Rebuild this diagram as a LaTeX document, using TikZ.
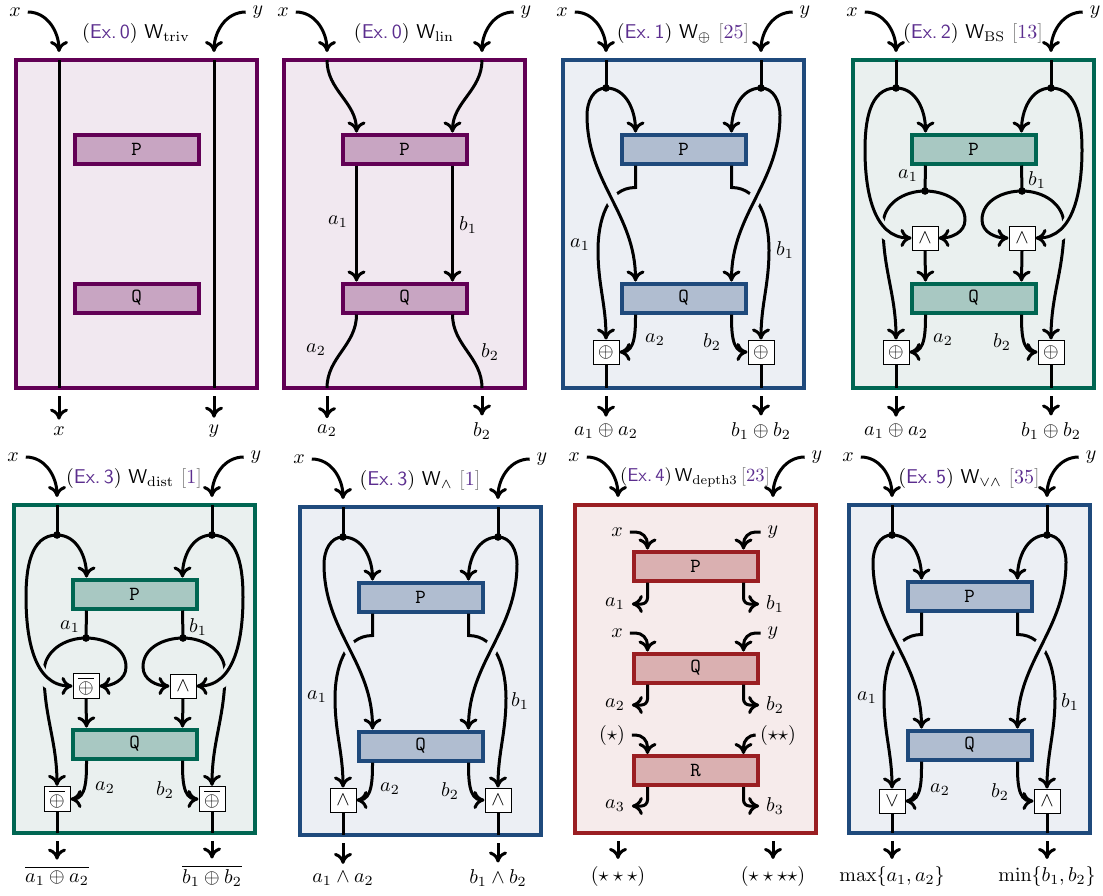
\documentclass[tikz,border=0pt]{standalone}
\usepackage{amsmath}
\usepackage{tikz}
\usetikzlibrary{arrows.meta}

\definecolor{purpfr}{HTML}{620055}
\definecolor{purpbg}{HTML}{F1E8F0}
\definecolor{purpbox}{HTML}{C8A5C2}
\definecolor{bluefr}{HTML}{1F4A7C}
\definecolor{bluebg}{HTML}{ECEFF4}
\definecolor{bluebox}{HTML}{B0BDD0}
\definecolor{greenfr}{HTML}{006652}
\definecolor{greenbg}{HTML}{EAF0EF}
\definecolor{greenbox}{HTML}{A8C8C2}
\definecolor{redfr}{HTML}{9A1E22}
\definecolor{redbg}{HTML}{F6EBEB}
\definecolor{redbox}{HTML}{DAB0B1}
\definecolor{expurple}{HTML}{5B2D8E}

\newcommand{\exno}[1]{(\textcolor{expurple}{\textsf{Ex.\,#1}})}
\newcommand{\refnum}[1]{\textcolor{gray}{[}\textcolor{expurple}{#1}\textcolor{gray}{]}}

\tikzset{
  wire/.style={line width=1.5pt},
  panel/.style={draw=#1fr, fill=#1bg, line width=1.8pt},
  gate/.style={rectangle, draw=#1fr, fill=#1box, line width=2pt, minimum width=62pt, minimum height=14.5pt, inner sep=0pt, font=\ttfamily},
  op/.style={rectangle, draw, fill=white, line width=0.5pt, minimum width=13pt, minimum height=12pt, inner sep=2pt},
  split/.style={circle, fill, inner sep=0pt, minimum size=3.8pt},
  over/.style={preaction={draw=#1bg, line width=6.5pt, -, shorten <=6pt, shorten >=6pt}},
}

\begin{document}
\begin{tikzpicture}[x=0.5pt, y=0.5pt, >={Computer Modern Rightarrow[length=5.5pt,width=9pt]}]
    \useasboundingbox (0,0) rectangle (1103,-895);

    \begin{scope}[shift={(16,-60)}]
        \draw[panel=purp] (0,0) rectangle (241,-328);
        \node (t1) at (120,27) {\exno{0} \textsf{W}$_{\mathrm{triv}}$};
        \node[gate=purp] (P1) at (120.5,-89) {P};
        \node[gate=purp] (Q1) at (120.5,-238) {Q};
        \node (xi1) at (-1,48) {$x$};
        \node (yi1) at (242,48) {$y$};
        \node (xo1) at (43,-371) {$x$};
        \node (yo1) at (198,-371) {$y$};
        \draw[wire,->] (xi1.east) to[out=0,in=90] (43,8);
        \draw[wire,->] (yi1.west) to[out=180,in=90] (198,8);
        \draw[wire] (43,0) -- (43,-328);
        \draw[wire] (198,0) -- (198,-328);
        \draw[wire,->] (43,-336) -- (xo1);
        \draw[wire,->] (198,-336) -- (yo1);
    \end{scope}

    \begin{scope}[shift={(284,-60)}]
        \draw[panel=purp] (0,0) rectangle (241,-328);
        \node (t2) at (120,27) {\exno{0} \textsf{W}$_{\mathrm{lin}}$};
        \node[gate=purp] (P2) at (120.5,-89) {P};
        \node[gate=purp] (Q2) at (120.5,-238) {Q};
        \node (xi2) at (-1,48) {$x$};
        \node (yi2) at (242,48) {$y$};
        \node (ao2) at (43,-371) {$a_2$};
        \node (bo2) at (198,-371) {$b_2$};
        \node (a1-2) at (54,-162) {$a_1$};
        \node (b1-2) at (184,-165) {$b_1$};
        \node (a2-2) at (32,-290) {$a_2$};
        \node (b2-2) at (206,-292) {$b_2$};
        \draw[wire,->] (xi2.east) to[out=0,in=90] (43,8);
        \draw[wire,->] (yi2.west) to[out=180,in=90] (198,8);
        \draw[wire,->] (43,0) to[out=-90,in=90] ([xshift=-24pt]P2.north);
        \draw[wire,->] (198,0) to[out=-90,in=90] ([xshift=24pt]P2.north);
        \draw[wire,->] ([xshift=-24pt]P2.south) -- ([xshift=-24pt]Q2.north);
        \draw[wire,->] ([xshift=24pt]P2.south) -- ([xshift=24pt]Q2.north);
        \draw[wire] ([xshift=-24pt]Q2.south) to[out=-90,in=90] (43,-328);
        \draw[wire] ([xshift=24pt]Q2.south) to[out=-90,in=90] (198,-328);
        \draw[wire,->] (43,-336) -- (ao2);
        \draw[wire,->] (198,-336) -- (bo2);
    \end{scope}

    \begin{scope}[shift={(563,-60)}]
        \draw[panel=blue] (0,0) rectangle (241,-328);
        \node (t3) at (120,27) {\exno{1} \textsf{W}$_{\oplus}$ \refnum{25}};
        \node[gate=blue] (P3) at (120.5,-89) {P};
        \node[gate=blue] (Q3) at (120.5,-238) {Q};
        \node[op] (oa3) at (43,-292) {$\oplus$};
        \node[op] (ob3) at (198,-292) {$\oplus$};
        \node[split] (dx3) at (43,-28) {};
        \node[split] (dy3) at (198,-28) {};
        \node (xi3) at (-1,48) {$x$};
        \node (yi3) at (242,48) {$y$};
        \node (ao3) at (43,-371) {$a_1\oplus a_2$};
        \node (bo3) at (198,-371) {$b_1\oplus b_2$};
        \node (a1-3) at (17,-185) {$a_1$};
        \node (b1-3) at (222,-190) {$b_1$};
        \node (a2-3) at (92,-280) {$a_2$};
        \node (b2-3) at (149,-282) {$b_2$};
        \draw[wire,->] (xi3.east) to[out=0,in=90] (43,8);
        \draw[wire,->] (yi3.west) to[out=180,in=90] (198,8);
        \draw[wire] (43,0) -- (dx3.center);
        \draw[wire] (198,0) -- (dy3.center);
        \draw[wire,->] (dx3.center) to[out=0,in=90] ([xshift=-24pt]P3.north);
        \draw[wire,->] (dy3.center) to[out=180,in=90] ([xshift=24pt]P3.north);
        \draw[wire,->] ([xshift=-24pt]P3.south) -- ++(0,-22) to[out=180,in=90] (35,-190) to[out=-90,in=90] (oa3.north);
        \draw[wire,->] ([xshift=24pt]P3.south) -- ++(0,-22) to[out=0,in=90] (206,-190) to[out=-90,in=90] (ob3.north);
        \draw[wire,->,over=blue] (dx3.center) to[out=180,in=90] (24,-55) to[out=-90,in=90] ([xshift=-24pt]Q3.north);
        \draw[wire,->,over=blue] (dy3.center) to[out=0,in=90] (217,-55) to[out=-90,in=90] ([xshift=24pt]Q3.north);
        \draw[wire,->] ([xshift=-24pt]Q3.south) to[out=-90,in=0] (oa3.east);
        \draw[wire,->] ([xshift=24pt]Q3.south) to[out=-90,in=180] (ob3.west);
        \draw[wire] (oa3.south) -- (43,-328);
        \draw[wire] (ob3.south) -- (198,-328);
        \draw[wire,->] (43,-336) -- (ao3);
        \draw[wire,->] (198,-336) -- (bo3);
    \end{scope}

    \begin{scope}[shift={(853,-60)}]
        \draw[panel=green] (0,0) rectangle (241,-328);
        \node (t4) at (120,27) {\exno{2} \textsf{W}$_{\mathrm{BS}}$ \refnum{13}};
        \node[gate=green] (P4) at (120.5,-89) {P};
        \node[gate=green] (Q4) at (120.5,-238) {Q};
        \node[op] (na4) at (72,-178) {$\wedge$};
        \node[op] (nb4) at (169,-178) {$\wedge$};
        \node[op] (oa4) at (43,-292) {$\oplus$};
        \node[op] (ob4) at (198,-292) {$\oplus$};
        \node[split] (dx4) at (43,-28) {};
        \node[split] (dy4) at (198,-28) {};
        \node[split] (da4) at (72,-131) {};
        \node[split] (db4) at (169,-131) {};
        \node (xi4) at (-1,48) {$x$};
        \node (yi4) at (242,48) {$y$};
        \node (ao4) at (43,-371) {$a_1\oplus a_2$};
        \node (bo4) at (198,-371) {$b_1\oplus b_2$};
        \node (a1-4) at (55,-116) {$a_1$};
        \node (b1-4) at (184,-120) {$b_1$};
        \node (a2-4) at (90,-280) {$a_2$};
        \node (b2-4) at (149,-282) {$b_2$};
        \draw[wire,->] (xi4.east) to[out=0,in=90] (43,8);
        \draw[wire,->] (yi4.west) to[out=180,in=90] (198,8);
        \draw[wire] (43,0) -- (dx4.center);
        \draw[wire] (198,0) -- (dy4.center);
        \draw[wire,->] (dx4.center) to[out=0,in=90] ([xshift=-24pt]P4.north);
        \draw[wire,->] (dy4.center) to[out=180,in=90] ([xshift=24pt]P4.north);
        \draw[wire] ([xshift=-24pt]P4.south) -- (da4.center);
        \draw[wire] ([xshift=24pt]P4.south) -- (db4.center);
        \draw[wire,->] (da4.center) to[out=0,in=90] (112,-160) to[out=-90,in=0] (na4.east);
        \draw[wire,->] (db4.center) to[out=180,in=90] (129,-160) to[out=-90,in=180] (nb4.west);
        \draw[wire,->] (da4.center) to[out=180,in=90] (30,-165) to[out=-90,in=90] (oa4.north);
        \draw[wire,->] (db4.center) to[out=0,in=90] (211,-165) to[out=-90,in=90] (ob4.north);
        \draw[wire,->,over=green] (dx4.center) to[out=180,in=90] (12,-90) to[out=-90,in=180] (na4.west);
        \draw[wire,->,over=green] (dy4.center) to[out=0,in=90] (229,-90) to[out=-90,in=0] (nb4.east);
        \draw[wire,->] (na4.south) -- ([xshift=-24pt]Q4.north);
        \draw[wire,->] (nb4.south) -- ([xshift=24pt]Q4.north);
        \draw[wire,->] ([xshift=-24pt]Q4.south) to[out=-90,in=0] (oa4.east);
        \draw[wire,->] ([xshift=24pt]Q4.south) to[out=-90,in=180] (ob4.west);
        \draw[wire] (oa4.south) -- (43,-328);
        \draw[wire] (ob4.south) -- (198,-328);
        \draw[wire,->] (43,-336) -- (ao4);
        \draw[wire,->] (198,-336) -- (bo4);
    \end{scope}

    \begin{scope}[shift={(14,-505)}]
        \draw[panel=green] (0,0) rectangle (241,-328);
        \node (t5) at (120,27) {\exno{3} \textsf{W}$_{\mathrm{dist}}$ \refnum{1}};
        \node[gate=green] (P5) at (120.5,-89) {P};
        \node[gate=green] (Q5) at (120.5,-239) {Q};
        \node[op] (na5) at (72,-181) {$\overline{\oplus}$};
        \node[op] (nb5) at (169,-181) {$\wedge$};
        \node[op] (oa5) at (43,-294) {$\overline{\oplus}$};
        \node[op] (ob5) at (198,-294) {$\overline{\oplus}$};
        \node[split] (dx5) at (43,-30) {};
        \node[split] (dy5) at (198,-30) {};
        \node[split] (da5) at (72,-133) {};
        \node[split] (db5) at (169,-133) {};
        \node (xi5) at (-1,48) {$x$};
        \node (yi5) at (242,48) {$y$};
        \node (ao5) at (43,-371) {$\overline{a_1\oplus a_2}$};
        \node (bo5) at (198,-371) {$\overline{b_1\oplus b_2}$};
        \node (a1-5) at (56,-122) {$a_1$};
        \node (b1-5) at (184,-122) {$b_1$};
        \node (a2-5) at (91,-283) {$a_2$};
        \node (b2-5) at (151,-285) {$b_2$};
        \draw[wire,->] (xi5.east) to[out=0,in=90] (43,8);
        \draw[wire,->] (yi5.west) to[out=180,in=90] (198,8);
        \draw[wire] (43,0) -- (dx5.center);
        \draw[wire] (198,0) -- (dy5.center);
        \draw[wire,->] (dx5.center) to[out=0,in=90] ([xshift=-24pt]P5.north);
        \draw[wire,->] (dy5.center) to[out=180,in=90] ([xshift=24pt]P5.north);
        \draw[wire] ([xshift=-24pt]P5.south) -- (da5.center);
        \draw[wire] ([xshift=24pt]P5.south) -- (db5.center);
        \draw[wire,->] (da5.center) to[out=0,in=90] (112,-162) to[out=-90,in=0] (na5.east);
        \draw[wire,->] (db5.center) to[out=180,in=90] (129,-162) to[out=-90,in=180] (nb5.west);
        \draw[wire,->] (da5.center) to[out=180,in=90] (30,-167) to[out=-90,in=90] (oa5.north);
        \draw[wire,->] (db5.center) to[out=0,in=90] (211,-167) to[out=-90,in=90] (ob5.north);
        \draw[wire,->,over=green] (dx5.center) to[out=180,in=90] (12,-92) to[out=-90,in=180] (na5.west);
        \draw[wire,->,over=green] (dy5.center) to[out=0,in=90] (229,-92) to[out=-90,in=0] (nb5.east);
        \draw[wire,->] (na5.south) -- ([xshift=-24pt]Q5.north);
        \draw[wire,->] (nb5.south) -- ([xshift=24pt]Q5.north);
        \draw[wire,->] ([xshift=-24pt]Q5.south) to[out=-90,in=0] (oa5.east);
        \draw[wire,->] ([xshift=24pt]Q5.south) to[out=-90,in=180] (ob5.west);
        \draw[wire] (oa5.south) -- (43,-328);
        \draw[wire] (ob5.south) -- (198,-328);
        \draw[wire,->] (43,-336) -- (ao5);
        \draw[wire,->] (198,-336) -- (bo5);
    \end{scope}

    \begin{scope}[shift={(300,-507)}]
        \draw[panel=blue] (0,0) rectangle (241,-328);
        \node (t6) at (120,27) {\exno{3} \textsf{W}$_{\wedge}$ \refnum{1}};
        \node[gate=blue] (P6) at (120.5,-90) {P};
        \node[gate=blue] (Q6) at (120.5,-239) {Q};
        \node[op] (oa6) at (43,-293) {$\wedge$};
        \node[op] (ob6) at (198,-293) {$\wedge$};
        \node[split] (dx6) at (43,-30) {};
        \node[split] (dy6) at (198,-30) {};
        \node (xi6) at (-1,48) {$x$};
        \node (yi6) at (242,48) {$y$};
        \node (ao6) at (43,-371) {$a_1\wedge a_2$};
        \node (bo6) at (198,-371) {$b_1\wedge b_2$};
        \node (a1-6) at (17,-190) {$a_1$};
        \node (b1-6) at (220,-194) {$b_1$};
        \node (a2-6) at (90,-282) {$a_2$};
        \node (b2-6) at (150,-284) {$b_2$};
        \draw[wire,->] (xi6.east) to[out=0,in=90] (43,8);
        \draw[wire,->] (yi6.west) to[out=180,in=90] (198,8);
        \draw[wire] (43,0) -- (dx6.center);
        \draw[wire] (198,0) -- (dy6.center);
        \draw[wire,->] (dx6.center) to[out=0,in=90] ([xshift=-24pt]P6.north);
        \draw[wire,->] (dy6.center) to[out=180,in=90] ([xshift=24pt]P6.north);
        \draw[wire,->] ([xshift=-24pt]P6.south) -- ++(0,-22) to[out=180,in=90] (35,-191) to[out=-90,in=90] (oa6.north);
        \draw[wire,->] ([xshift=24pt]P6.south) -- ++(0,-22) to[out=0,in=90] (206,-191) to[out=-90,in=90] (ob6.north);
        \draw[wire,->,over=blue] (dx6.center) to[out=180,in=90] (24,-57) to[out=-90,in=90] ([xshift=-24pt]Q6.north);
        \draw[wire,->,over=blue] (dy6.center) to[out=0,in=90] (217,-57) to[out=-90,in=90] ([xshift=24pt]Q6.north);
        \draw[wire,->] ([xshift=-24pt]Q6.south) to[out=-90,in=0] (oa6.east);
        \draw[wire,->] ([xshift=24pt]Q6.south) to[out=-90,in=180] (ob6.west);
        \draw[wire] (oa6.south) -- (43,-328);
        \draw[wire] (ob6.south) -- (198,-328);
        \draw[wire,->] (43,-336) -- (ao6);
        \draw[wire,->] (198,-336) -- (bo6);
    \end{scope}

    \begin{scope}[shift={(575,-505)}]
        \draw[panel=red] (0,0) rectangle (241,-328);
        \node[scale=0.93] (t7) at (120,28) {\exno{4}\,\textsf{W}$_{\mathrm{depth3}}$\,\refnum{23}};
        \node[gate=red] (P7) at (120.5,-61) {P};
        \node[gate=red] (Q7) at (120.5,-163) {Q};
        \node[gate=red] (R7) at (120.5,-265.5) {R};
        \node (xi7) at (-1,48) {$x$};
        \node (yi7) at (242,48) {$y$};
        \node (ao7) at (43,-371) {$(\star\star\star)$};
        \node (bo7) at (198,-371) {$(\star\star\star\star)$};
        \node (xp7) at (42,-27) {$x$};
        \node (yp7) at (198,-27) {$y$};
        \node (ap7) at (40,-99) {$a_1$};
        \node (bp7) at (200,-99) {$b_1$};
        \node (xq7) at (42,-128) {$x$};
        \node (yq7) at (198,-128) {$y$};
        \node (aq7) at (40,-200) {$a_2$};
        \node (bq7) at (200,-200) {$b_2$};
        \node (sr7) at (37,-230) {$(\star)$};
        \node (ssr7) at (203,-230) {$(\star\star)$};
        \node (ar7) at (40,-301) {$a_3$};
        \node (br7) at (200,-301) {$b_3$};
        \draw[wire,->] (xi7.east) to[out=0,in=90] (43,8);
        \draw[wire,->] (yi7.west) to[out=180,in=90] (198,8);
        \draw[wire,->,rounded corners=6pt] (xp7.east) -| ([xshift=-24pt]P7.north);
        \draw[wire,->,rounded corners=6pt] (yp7.west) -| ([xshift=24pt]P7.north);
        \draw[wire,->,rounded corners=3pt] ([xshift=-24pt]P7.south) |- (ap7.east);
        \draw[wire,->,rounded corners=3pt] ([xshift=24pt]P7.south) |- (bp7.west);
        \draw[wire,->,rounded corners=6pt] (xq7.east) -| ([xshift=-24pt]Q7.north);
        \draw[wire,->,rounded corners=6pt] (yq7.west) -| ([xshift=24pt]Q7.north);
        \draw[wire,->,rounded corners=3pt] ([xshift=-24pt]Q7.south) |- (aq7.east);
        \draw[wire,->,rounded corners=3pt] ([xshift=24pt]Q7.south) |- (bq7.west);
        \draw[wire,->,rounded corners=6pt] (sr7.east) -| ([xshift=-24pt]R7.north);
        \draw[wire,->,rounded corners=6pt] (ssr7.west) -| ([xshift=24pt]R7.north);
        \draw[wire,->,rounded corners=3pt] ([xshift=-24pt]R7.south) |- (ar7.east);
        \draw[wire,->,rounded corners=3pt] ([xshift=24pt]R7.south) |- (br7.west);
        \draw[wire,->] (43,-336) -- (ao7);
        \draw[wire,->] (198,-336) -- (bo7);
    \end{scope}

    \begin{scope}[shift={(849,-505)}]
        \draw[panel=blue] (0,0) rectangle (241,-328);
        \node (t8) at (120,27) {\exno{5} \textsf{W}$_{\vee\wedge}$ \refnum{35}};
        \node[gate=blue] (P8) at (120.5,-91) {P};
        \node[gate=blue] (Q8) at (120.5,-240) {Q};
        \node[op] (oa8) at (43,-296) {$\vee$};
        \node[op] (ob8) at (198,-296) {$\wedge$};
        \node[split] (dx8) at (43,-30) {};
        \node[split] (dy8) at (198,-30) {};
        \node (xi8) at (-1,48) {$x$};
        \node (yi8) at (242,48) {$y$};
        \node (ao8) at (43,-371) {$\max\{a_1,a_2\}$};
        \node (bo8) at (198,-371) {$\min\{b_1,b_2\}$};
        \node (a1-8) at (18,-193) {$a_1$};
        \node (b1-8) at (221,-197) {$b_1$};
        \node (a2-8) at (91,-285) {$a_2$};
        \node (b2-8) at (151,-287) {$b_2$};
        \draw[wire,->] (xi8.east) to[out=0,in=90] (43,8);
        \draw[wire,->] (yi8.west) to[out=180,in=90] (198,8);
        \draw[wire] (43,0) -- (dx8.center);
        \draw[wire] (198,0) -- (dy8.center);
        \draw[wire,->] (dx8.center) to[out=0,in=90] ([xshift=-24pt]P8.north);
        \draw[wire,->] (dy8.center) to[out=180,in=90] ([xshift=24pt]P8.north);
        \draw[wire,->] ([xshift=-24pt]P8.south) -- ++(0,-22) to[out=180,in=90] (35,-193) to[out=-90,in=90] (oa8.north);
        \draw[wire,->] ([xshift=24pt]P8.south) -- ++(0,-22) to[out=0,in=90] (206,-193) to[out=-90,in=90] (ob8.north);
        \draw[wire,->,over=blue] (dx8.center) to[out=180,in=90] (24,-57) to[out=-90,in=90] ([xshift=-24pt]Q8.north);
        \draw[wire,->,over=blue] (dy8.center) to[out=0,in=90] (217,-57) to[out=-90,in=90] ([xshift=24pt]Q8.north);
        \draw[wire,->] ([xshift=-24pt]Q8.south) to[out=-90,in=0] (oa8.east);
        \draw[wire,->] ([xshift=24pt]Q8.south) to[out=-90,in=180] (ob8.west);
        \draw[wire] (oa8.south) -- (43,-328);
        \draw[wire] (ob8.south) -- (198,-328);
        \draw[wire,->] (43,-336) -- (ao8);
        \draw[wire,->] (198,-336) -- (bo8);
    \end{scope}
\end{tikzpicture}
\end{document}
